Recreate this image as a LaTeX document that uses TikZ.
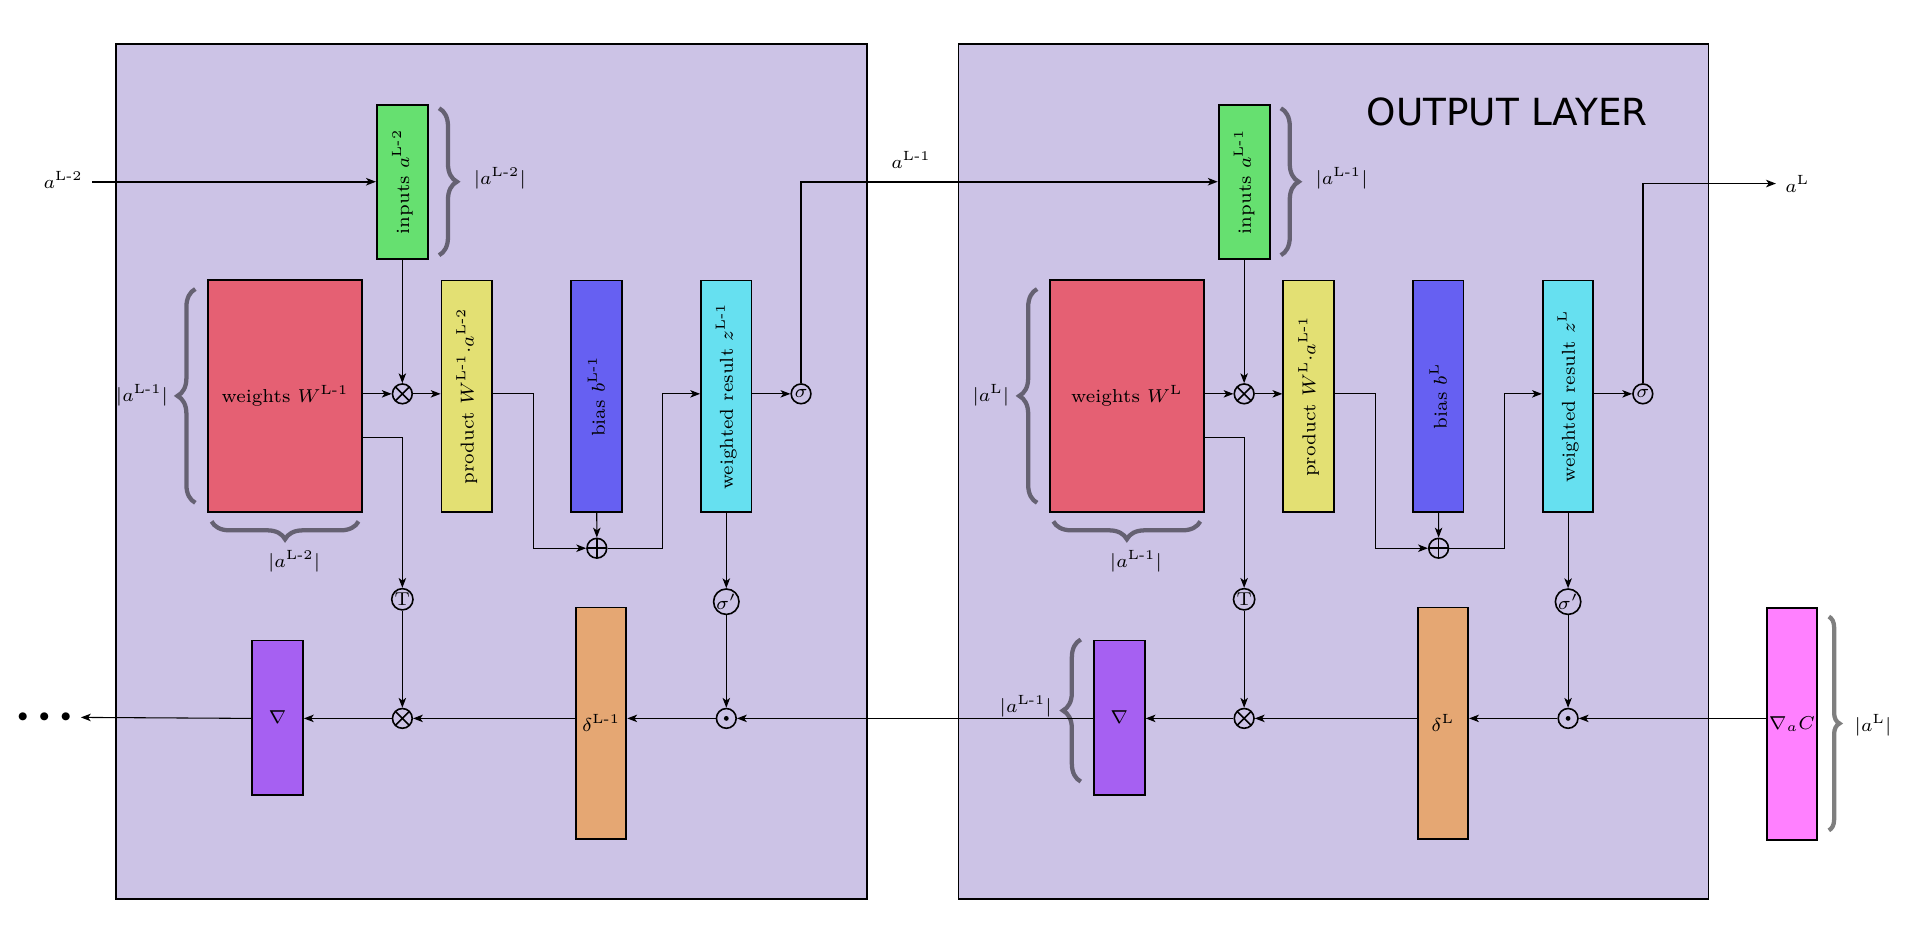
\documentclass[tikz,border=0pt]{standalone}
\usepackage{amsmath}
\usepackage{fontspec}
\newfontfamily\titlefont{DejaVu Sans}
\usetikzlibrary{arrows.meta, positioning, decorations.pathreplacing}

\definecolor{panelbg}{RGB}{204,195,230}
\definecolor{wred}{RGB}{229,96,115}
\definecolor{ingreen}{RGB}{102,224,112}
\definecolor{prodyellow}{RGB}{227,224,115}
\definecolor{biasblue}{RGB}{102,96,242}
\definecolor{zcyan}{RGB}{102,224,240}
\definecolor{deltaorange}{RGB}{229,167,115}
\definecolor{gradpurple}{RGB}{166,96,242}
\definecolor{costpink}{RGB}{255,128,255}

\begin{document}
\begin{tikzpicture}[
    x=0.016cm, y=-0.016cm,
    panel/.style={draw, line width=0.7pt, fill=panelbg},
    block/.style={rectangle, draw, line width=0.7pt, inner sep=0pt, font=\scriptsize},
    tallblock/.style={block, minimum width=0.665cm, minimum height=3.05cm},
    sqblock/.style={block, minimum width=0.67cm, minimum height=2.03cm},
    wblock/.style={block, fill=wred, minimum width=2.03cm, minimum height=3.05cm},
    op/.style={circle, draw, semithick, minimum size=0.26cm, inner sep=0pt, font=\scriptsize},
    txtop/.style={op, minimum size=0.28cm},
    optimes/.style={op, path picture={\draw (path picture bounding box.north west) -- (path picture bounding box.south east) (path picture bounding box.north east) -- (path picture bounding box.south west);}},
    opplus/.style={op, path picture={\draw (path picture bounding box.north) -- (path picture bounding box.south) (path picture bounding box.west) -- (path picture bounding box.east);}},
    opdot/.style={op, path picture={\fill (path picture bounding box.center) circle (0.9pt);}},
    arrow/.style={-{Stealth[length=3.7pt, width=2.8pt, inset=1pt]}, thin},
    sizebrace/.style={decorate, decoration={brace, amplitude=0.235cm}, line width=1.6pt, draw opacity=0.5},
    lbl/.style={font=\scriptsize}
]
\useasboundingbox (0,0) rectangle (1568,766.7);

% Layers
\draw[panel] (95.5,36.2) rectangle (713,739.6);
\draw[panel] (788.5,36.2) rectangle (1405.5,739.6);
\node[font=\titlefont\fontsize{14}{16}\selectfont] (title) at (1240,92) {OUTPUT LAYER};

% ---- Layer L-1 ----
\node[lbl] (ain) at (52,148) {$a^{\text{L-2}}$};
\node[sqblock, fill=ingreen] (in1) at (331,149.5) {\rotatebox{90}{inputs $a^{\text{L-2}}$}};
\node[wblock] (w1) at (234.5,325.7) {weights $W^{\text{L-1}}$};
\node[optimes] (mul1) at (331,324) {};
\node[tallblock, fill=prodyellow] (prod1) at (384,326) {\rotatebox{90}{product $W^{\text{L-1}}{\cdot}a^{\text{L-2}}$}};
\node[tallblock, fill=biasblue] (bias1) at (490.7,326) {\rotatebox{90}{bias $b^{\text{L-1}}$}};
\node[tallblock, fill=zcyan] (z1) at (597.5,326) {\rotatebox{90}{weighted result $z^{\text{L-1}}$}};
\node[op] (sig1) at (659,324) {$\sigma$};
\node[opplus] (add1) at (491,451) {};
\node[txtop] (t1) at (331,493) {T};
\node[txtop] (sp1) at (597.5,495) {$\sigma'$};
\node[opdot] (had1) at (597.5,591) {};
\node[tallblock, fill=deltaorange] (d1) at (494.5,595) {$\delta^{\text{L-1}}$};
\node[optimes] (mulb1) at (331,591) {};
\node[sqblock, fill=gradpurple] (g1) at (228.3,590.3) {$\nabla$};
\node[font=\scriptsize] (dots) at (36.5,590) {$\bullet$\hspace{4pt}$\bullet$\hspace{4pt}$\bullet$};

% sizes
\draw[sizebrace] ([xshift=0.136cm, yshift=-0.06cm]in1.north east) -- ([xshift=0.136cm, yshift=0.06cm]in1.south east);
\node[lbl, anchor=west] (nin1) at (382,146.4) {$|a^{\text{L-2}}|$};
\draw[sizebrace] ([xshift=-0.154cm, yshift=0.13cm]w1.south west) -- ([xshift=-0.154cm, yshift=-0.13cm]w1.north west);
\node[lbl, anchor=east] (nw1) at (146,325) {$|a^{\text{L-1}}|$};
\draw[sizebrace] ([xshift=-0.06cm, yshift=-0.115cm]w1.south east) -- ([xshift=0.06cm, yshift=-0.115cm]w1.south west);
\node[lbl] (nb1) at (242,462) {$|a^{\text{L-2}}|$};

% ---- Output layer L ----
\node[lbl] (amid) at (749.5,131.6) {$a^{\text{L-1}}$};
\node[sqblock, fill=ingreen] (in2) at (1023.5,149.5) {\rotatebox{90}{inputs $a^{\text{L-1}}$}};
\node[wblock] (w2) at (927,325.7) {weights $W^{\text{L}}$};
\node[optimes] (mul2) at (1023.5,324) {};
\node[tallblock, fill=prodyellow] (prod2) at (1076.5,326) {\rotatebox{90}{product $W^{\text{L}}{\cdot}a^{\text{L-1}}$}};
\node[tallblock, fill=biasblue] (bias2) at (1183.2,326) {\rotatebox{90}{bias $b^{\text{L}}$}};
\node[tallblock, fill=zcyan] (z2) at (1290,326) {\rotatebox{90}{weighted result $z^{\text{L}}$}};
\node[op] (sig2) at (1351.5,324) {$\sigma$};
\node[opplus] (add2) at (1183.5,451) {};
\node[txtop] (t2) at (1023.5,493) {T};
\node[txtop] (sp2) at (1290,495) {$\sigma'$};
\node[opdot] (had2) at (1290,591) {};
\node[tallblock, fill=deltaorange] (d2) at (1187,595) {$\delta^{\text{L}}$};
\node[optimes] (mulb2) at (1023.5,591) {};
\node[sqblock, fill=gradpurple] (g2) at (920.8,590.3) {$\nabla$};
\node[tallblock, fill=costpink] (gc) at (1474.2,595.8) {$\nabla_{a}C$};
\node[lbl, anchor=west] (aout) at (1461,151) {$a^{\text{L}}$};

% sizes
\draw[sizebrace] ([xshift=0.136cm, yshift=-0.06cm]in2.north east) -- ([xshift=0.136cm, yshift=0.06cm]in2.south east);
\node[lbl, anchor=west] (nin2) at (1074.5,146.4) {$|a^{\text{L-1}}|$};
\draw[sizebrace] ([xshift=-0.154cm, yshift=0.13cm]w2.south west) -- ([xshift=-0.154cm, yshift=-0.13cm]w2.north west);
\node[lbl, anchor=east] (nw2) at (838,325) {$|a^{\text{L}}|$};
\draw[sizebrace] ([xshift=-0.06cm, yshift=-0.115cm]w2.south east) -- ([xshift=0.06cm, yshift=-0.115cm]w2.south west);
\node[lbl] (nb2) at (934.5,462) {$|a^{\text{L-1}}|$};
\draw[sizebrace] ([xshift=-0.16cm, yshift=-1.87cm]g2.north west) -- ([xshift=-0.16cm]g2.north west);
\node[lbl, anchor=east] (ng2) at (873,581) {$|a^{\text{L-1}}|$};
\draw[sizebrace, decoration={amplitude=0.14cm}] ([xshift=0.14cm, yshift=-0.12cm]gc.north east) -- ([xshift=0.14cm, yshift=0.14cm]gc.south east);
\node[lbl, anchor=west] (ngc) at (1518,596.5) {$|a^{\text{L}}|$};

% Arrows, layer L-1
\draw[arrow, semithick] (ain.east |- in1) -- (in1);
\draw[arrow] (in1) -- (mul1);
\draw[arrow] (w1.east |- mul1) -- (mul1);
\draw[arrow] (mul1) -- (mul1 -| prod1.west);
\draw[arrow] (prod1.east |- mul1) -- ++(33.5,0) |- (add1);
\draw[arrow] (bias1) -- (add1);
\draw[arrow] (add1) -- ++(54,0) |- (z1.west |- mul1);
\draw[arrow] (z1.east |- mul1) -- (sig1);
\draw[arrow, semithick] (sig1) |- (in2);
\draw[arrow] ([yshift=-0.55cm]w1.east) -| (t1);
\draw[arrow] (t1) -- (mulb1);
\draw[arrow] (z1) -- (sp1);
\draw[arrow] (sp1) -- (had1);
\draw[arrow] (had1) -- (had1 -| d1.east);
\draw[arrow] (d1.west |- mulb1) -- (mulb1);
\draw[arrow] (mulb1) -- (mulb1 -| g1.east);
\draw[arrow] (g1.west |- mulb1) -- (dots);

% Arrows, output layer
\draw[arrow] (in2) -- (mul2);
\draw[arrow] (w2.east |- mul2) -- (mul2);
\draw[arrow] (mul2) -- (mul2 -| prod2.west);
\draw[arrow] (prod2.east |- mul2) -- ++(33.5,0) |- (add2);
\draw[arrow] (bias2) -- (add2);
\draw[arrow] (add2) -- ++(54,0) |- (z2.west |- mul2);
\draw[arrow] (z2.east |- mul2) -- (sig2);
\draw[arrow, semithick] (sig2) |- (aout);
\draw[arrow] ([yshift=-0.55cm]w2.east) -| (t2);
\draw[arrow] (t2) -- (mulb2);
\draw[arrow] (z2) -- (sp2);
\draw[arrow] (sp2) -- (had2);
\draw[arrow] (gc.west |- had2) -- (had2);
\draw[arrow] (had2) -- (had2 -| d2.east);
\draw[arrow] (d2.west |- mulb2) -- (mulb2);
\draw[arrow] (mulb2) -- (mulb2 -| g2.east);
\draw[arrow] (g2.west |- had1) -- (had1);

\end{tikzpicture}
\end{document}
